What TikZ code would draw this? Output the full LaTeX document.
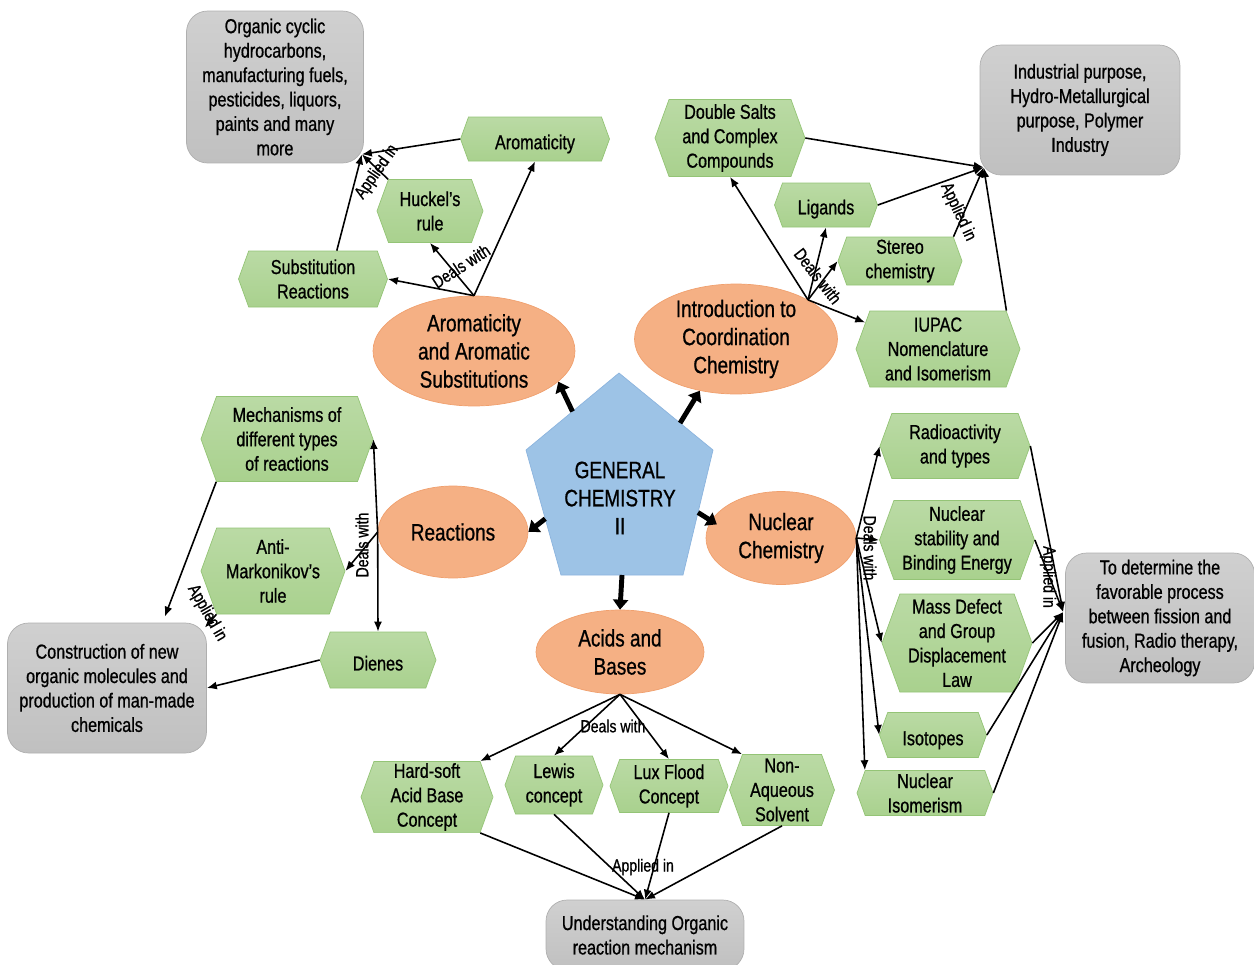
\documentclass[tikz,border=0pt]{standalone}
\usepackage{fontspec}
\setmainfont{Liberation Sans}[FakeStretch=0.8, FakeBold=0.8]
\usetikzlibrary{shapes.geometric, shapes.symbols, arrows.meta, calc}
\definecolor{hexgreen}{RGB}{169,209,142}
\definecolor{hexedge}{RGB}{148,196,118}
\definecolor{salmon}{RGB}{245,176,132}
\definecolor{salmonedge}{RGB}{240,160,110}
\definecolor{penblue}{RGB}{157,195,230}
\definecolor{penedge}{RGB}{140,180,222}
\definecolor{boxgray}{RGB}{192,192,192}
\definecolor{boxedge}{RGB}{175,175,175}

\begin{document}
\begin{tikzpicture}[
    x=0.02cm, y=-0.02cm,
    hex/.style={signal, signal to=east and west, signal pointer angle=140,
                draw=hexedge, top color=hexgreen!80!white, bottom color=hexgreen,
                align=center, inner sep=1pt, font=\fontsize{11.5}{13.9}\selectfont},
    topic/.style={ellipse, draw=salmonedge, fill=salmon, align=center,
                  inner xsep=0pt, inner ysep=-5pt, font=\fontsize{13.5}{16}\selectfont},
    usebox/.style={draw=boxedge, rounded corners=12pt, top color=boxgray!75!white,
                   bottom color=boxgray, align=center, inner sep=1pt,
                   font=\fontsize{11.5}{13.9}\selectfont},
    sink/.style={execute at begin node={\rule{0pt}{#1}}},
    tag/.style={font=\fontsize{10}{12}\selectfont, inner sep=0pt},
    arr/.style={-{Latex[length=2mm,width=1.6mm]}, line width=0.9pt},
    fat/.style={-{Triangle[length=2mm,width=3mm]}, line width=2.8pt}
]
    \useasboundingbox (0,0) rectangle (1254,964);

    % centre pentagon
    \coordinate (ptop) at (619,373);
    \coordinate (pright) at (713,450);
    \coordinate (pbr) at (683,575);
    \coordinate (pbl) at (561,575);
    \coordinate (pleft) at (526,450);
    \filldraw[draw=penedge, fill=penblue] (ptop) -- (pright) -- (pbr) -- (pbl) -- (pleft) -- cycle;
    \node[font=\fontsize{13.5}{16}\selectfont, align=center] (gen) at (620,498)
        {GENERAL\\CHEMISTRY\\II};

    % topics
    \node[topic, minimum width=4.04cm, minimum height=2.2cm] (arom) at (474,351)
        {Aromaticity\\and Aromatic\\Substitutions};
    \node[topic, sink=12pt, minimum width=4.06cm, minimum height=2.2cm] (coord) at (736,339)
        {Introduction to\\Coordination\\Chemistry};
    \node[topic, minimum width=3cm, minimum height=1.84cm] (react) at (453,532) {Reactions};
    \node[topic, minimum width=3cm, minimum height=1.86cm] (nuc) at (781,538) {Nuclear\\Chemistry};
    \node[topic, minimum width=3.36cm, minimum height=1.68cm] (acids) at (620,652) {Acids and\\Bases};

    \draw[fat] ($(ptop)!0.5!(pleft)$) -- (arom.-20);
    \draw[fat] ($(ptop)!0.65!(pright)$) -- (coord.-125);
    \draw[fat] ($(pleft)!0.55!(pbl)$) -- (react.east);
    \draw[fat] ($(pright)!0.5!(pbr)$) -- ($(nuc)!0.9!(nuc.168)$);
    \draw[fat] ($(pbl)!0.5!(pbr)$) -- (acids.north);

    % aromatic branch
    \node[hex, sink=14pt, minimum width=2.98cm, minimum height=0.88cm] (aromy) at (535,139) {Aromaticity};
    \node[hex, minimum width=2.12cm, minimum height=1.26cm] (huckel) at (430,211) {Huckel’s\\rule};
    \node[hex, sink=10.5pt, minimum width=2.98cm, minimum height=1.12cm] (subst) at (313,279) {Substitution\\Reactions};
    \node[usebox, minimum width=3.54cm, minimum height=3.04cm] (org) at (275,87)
        {Organic cyclic\\hydrocarbons,\\manufacturing fuels,\\pesticides, liquors,\\paints and many\\more};

    % coordination branch
    \node[hex, minimum width=3cm, minimum height=1.54cm] (dbl) at (730,138) {Double Salts\\and Complex\\Compounds};
    \node[hex, sink=13pt, minimum width=2.06cm, minimum height=0.88cm] (lig) at (826,205) {Ligands};
    \node[hex, sink=14pt, minimum width=2.48cm, minimum height=0.96cm] (stereo) at (900,261) {Stereo\\chemistry};
    \node[hex, minimum width=3.28cm, minimum height=1.52cm] (iupac) at (938,349) {IUPAC\\Nomenclature\\and Isomerism};
    \node[usebox, sink=13pt, minimum width=4cm, minimum height=2.6cm] (ind) at (1080,110)
        {Industrial purpose,\\Hydro-Metallurgical\\purpose, Polymer\\Industry};

    % reactions branch
    \node[hex, minimum width=3.44cm, minimum height=1.7cm] (mech) at (287,439) {Mechanisms of\\different types\\of reactions};
    \node[hex, minimum width=2.88cm, minimum height=1.72cm] (anti) at (273,571) {Anti-\\Markonikov’s\\rule};
    \node[hex, sink=12pt, minimum width=2.32cm, minimum height=1.12cm] (dienes) at (378,660) {Dienes};
    \node[usebox, minimum width=3.98cm, minimum height=2.6cm] (con) at (107,688)
        {Construction of new\\organic molecules and\\production of man-made\\chemicals};

    % nuclear branch
    \node[hex, sink=15pt, minimum width=3cm, minimum height=1.3cm] (radio) at (955,446) {Radioactivity\\and types};
    \node[hex, minimum width=3.1cm, minimum height=1.58cm] (stab) at (957,540) {Nuclear\\stability and\\Binding Energy};
    \node[hex, minimum width=3cm, minimum height=1.96cm] (mass) at (957,643) {Mass Defect\\and Group\\Displacement\\Law};
    \node[hex, sink=14pt, minimum width=2.14cm, minimum height=0.9cm] (iso) at (933,735) {Isotopes};
    \node[hex, minimum width=2.72cm, minimum height=0.9cm] (niso) at (925,793) {Nuclear\\Isomerism};
    \node[usebox, sink=12pt, minimum width=3.78cm, minimum height=2.6cm] (fav) at (1160,618)
        {To determine the\\favorable process\\between fission and\\fusion, Radio therapy,\\Archeology};

    % acids branch
    \node[hex, sink=13pt, minimum width=2.64cm, minimum height=1.42cm] (hsab) at (427,797) {Hard-soft\\Acid Base\\Concept};
    \node[hex, sink=14pt, minimum width=1.96cm, minimum height=1.16cm] (lewis) at (554,785) {Lewis\\concept};
    \node[hex, sink=13pt, minimum width=2.36cm, minimum height=1.06cm] (lux) at (669,786) {Lux Flood\\Concept};
    \node[hex, minimum width=2.1cm, minimum height=1.42cm] (nonaq) at (782,790) {Non-\\Aqueous\\Solvent};
    \node[usebox, minimum width=3.96cm, minimum height=1.4cm] (und) at (645,935)
        {Understanding Organic\\reaction mechanism};

    % meeting points of the "applied in" arrows
    \coordinate (orgtip) at ([shift={(-2,-9)}]org.south east);
    \coordinate (indtip) at ([shift={(4,-8)}]ind.south west);
    \coordinate (conA) at ([shift={(-42,-6)}]con.north east);
    \coordinate (conB) at ([shift={(-2,5)}]con.north east);
    \coordinate (favtip) at ([shift={(-2,-6)}]fav.west);
    \coordinate (undtip) at (und.north);

    \draw[arr] (arom.north) -- (subst.east);
    \draw[arr] (arom.north) -- (huckel.south);
    \draw[arr] (arom.north) -- (aromy.south);
    \draw[arr] (aromy.west) -- (orgtip);
    \draw[arr] (huckel.north west) -- (orgtip);
    \draw[arr] (subst.50) -- (orgtip);

    \draw[arr] (coord.north east) -- (dbl.south);
    \draw[arr] (coord.north east) -- (lig.south);
    \draw[arr] (coord.north east) -- (stereo.west);
    \draw[arr] (coord.north east) -- (iupac.160);
    \draw[arr] (dbl.east) -- (indtip);
    \draw[arr] (lig.east) -- (indtip);
    \draw[arr] (stereo.north east) -- (indtip);
    \draw[arr] (iupac.north east) -- (indtip);

    \draw[arr] (react.west) -- (mech.east);
    \draw[arr] (react.west) -- (anti.east);
    \draw[arr] (react.west) -- (dienes.north);
    \draw[arr] (mech.south west) -- (conA);
    \draw[arr] (anti.south west) -- (conB);
    \draw[arr] (dienes.west) -- (con.east);

    \draw[arr] (nuc.east) -- (radio.west);
    \draw[arr] (nuc.east) -- (stab.west);
    \draw[arr] (nuc.east) -- (mass.west);
    \draw[arr] (nuc.east) -- (iso.west);
    \draw[arr] (nuc.east) -- (niso.north west);
    \draw[arr] (radio.east) -- (favtip);
    \draw[arr] (stab.east) -- (favtip);
    \draw[arr] (mass.east) -- (favtip);
    \draw[arr] (iso.east) -- (favtip);
    \draw[arr] (niso.east) -- (favtip);

    \draw[arr] (acids.south) -- (hsab.north east);
    \draw[arr] (acids.south) -- (lewis.north);
    \draw[arr] (acids.south) -- (lux.north);
    \draw[arr] (acids.south) -- (nonaq.north west);
    \draw[arr] (hsab.south east) -- (undtip);
    \draw[arr] (lewis.south) -- (undtip);
    \draw[arr] (lux.south) -- (undtip);
    \draw[arr] (nonaq.south) -- (undtip);

    % connector labels
    \node[tag, rotate=33] (dealsA) at (461,266) {Deals with};
    \node[tag, rotate=55] (appliedA) at (377,172) {Applied in};
    \node[tag, rotate=-52] (dealsB) at (818,276) {Deals with};
    \node[tag, rotate=-65] (appliedB) at (958,212) {Applied in};
    \node[tag, rotate=90] (dealsC) at (362,545) {Deals with};
    \node[tag, rotate=-60] (appliedC) at (207,613) {Applied in};
    \node[tag, rotate=-90] (dealsD) at (870,548) {Deals with};
    \node[tag, rotate=-90] (appliedD) at (1048,577) {Applied in};
    \node[tag] (dealsE) at (613,726) {Deals with};
    \node[tag] (appliedE) at (643,867) {Applied in};
\end{tikzpicture}
\end{document}
